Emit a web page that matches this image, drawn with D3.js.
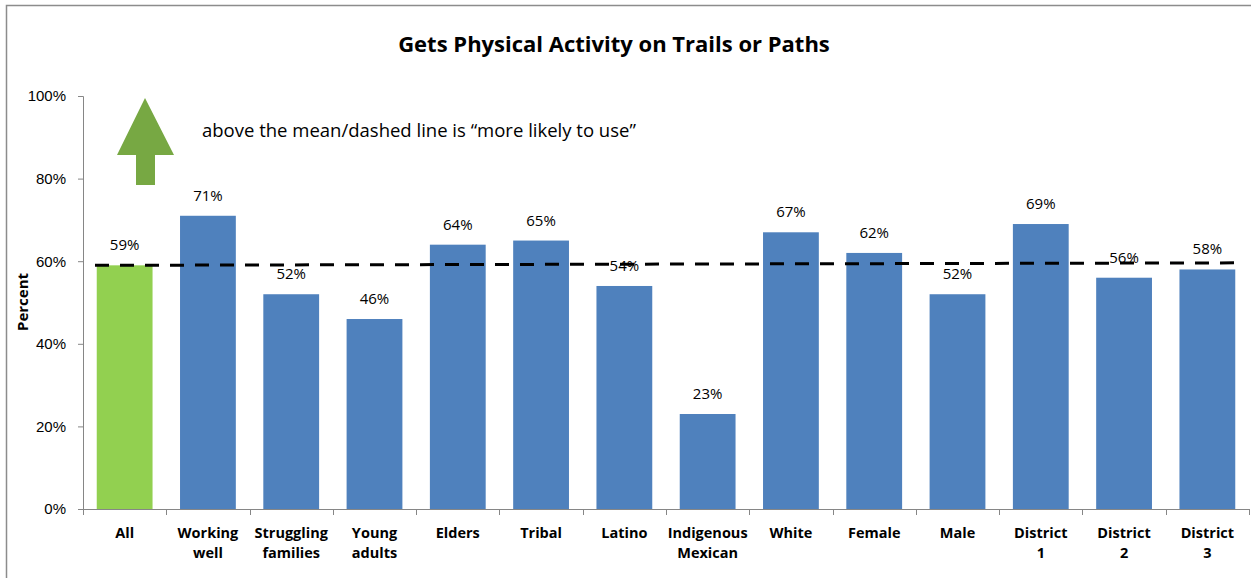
<!DOCTYPE html>
<html>
<head>
<meta charset="utf-8">
<script src="https://cdn.jsdelivr.net/npm/d3@7"></script>
<style>
  body { margin: 0; background: #fff; }
  svg { font-family: "Open Sans", Lato, sans-serif; }
</style>
</head>
<body>
<div id="chart"></div>
<script>
// chart values
var categories = [["All"], ["Working", "well"], ["Struggling", "families"], ["Young", "adults"],
  ["Elders"], ["Tribal"], ["Latino"], ["Indigenous", "Mexican"], ["White"], ["Female"],
  ["Male"], ["District", "1"], ["District", "2"], ["District", "3"]];
var values = [59, 71, 52, 46, 64, 65, 54, 23, 67, 62, 52, 69, 56, 58];
var highlight = [true, false, false, false, false, false, false, false, false, false, false, false, false, false];
var yTicks = [0, 20, 40, 60, 80, 100];
var meanLine = [59, 59.6];   // the hand-drawn dashed line is a little tilted

var width = 1251, height = 578;
var margin = {top: 96, right: 2, bottom: 69, left: 83};

var svg = d3.select("#chart").append("svg")
  .attr("width", width).attr("height", height);

// outer frame
svg.append("rect")
  .attr("x", 6.5).attr("y", 5.5)
  .attr("width", width).attr("height", height)
  .attr("fill", "none").attr("stroke", "#8c8c8c").attr("stroke-width", 1.5);

var x = d3.scaleBand()
  .domain(d3.range(categories.length))
  .range([margin.left, width - margin.right])
  .paddingInner(0.33).paddingOuter(0.165);

var y = d3.scaleLinear()
  .domain([0, 100])
  .range([height - margin.bottom, margin.top]);

// title
svg.append("text")
  .attr("x", 614).attr("y", 52)
  .attr("text-anchor", "middle")
  .style("font-size", "22px").style("font-weight", "bold")
  .text("Gets Physical Activity on Trails or Paths");

// y axis
var yAxis = svg.append("g")
  .attr("transform", "translate(" + margin.left + ",0)")
  .call(d3.axisLeft(y).tickValues(yTicks).tickSize(5).tickPadding(12).tickFormat(d => d + "%"));
yAxis.select(".domain").attr("stroke", "#868686");
yAxis.selectAll(".tick line").attr("stroke", "#868686");
yAxis.selectAll("text").style("font-size", "15px").attr("fill", "#000");

svg.append("text")
  .attr("transform", "translate(28," + 302 + ") rotate(-90)")
  .attr("text-anchor", "middle")
  .style("font-size", "15px").style("font-weight", "bold")
  .text("Percent");

// bars
svg.append("g").selectAll("rect")
  .data(values)
  .join("rect")
    .attr("x", (d, i) => x(i))
    .attr("y", d => y(d))
    .attr("width", x.bandwidth())
    .attr("height", d => y(0) - y(d))
    .attr("fill", (d, i) => highlight[i] ? "#92d050" : "#4f81bd");

// x axis (ticks between categories)
var x0 = y(0);
var xa = svg.append("g");
xa.append("line")
  .attr("x1", margin.left).attr("x2", width - margin.right)
  .attr("y1", x0 + 0.5).attr("y2", x0 + 0.5)
  .attr("stroke", "#868686");
xa.selectAll(".sep")
  .data(d3.range(categories.length + 1))
  .join("line")
    .attr("class", "sep")
    .attr("x1", i => Math.round(margin.left + i * x.step()) + 0.5)
    .attr("x2", i => Math.round(margin.left + i * x.step()) + 0.5)
    .attr("y1", x0).attr("y2", x0 + 6)
    .attr("stroke", "#868686");

var xl = svg.append("g").selectAll("text")
  .data(categories)
  .join("text")
    .attr("text-anchor", "middle")
    .attr("x", (d, i) => x(i) + x.bandwidth() / 2)
    .attr("y", x0 + 29)
    .style("font-size", "14.5px").style("font-weight", "bold");
xl.selectAll("tspan")
  .data(d => d)
  .join("tspan")
    .attr("x", function() { return this.parentNode.getAttribute("x"); })
    .attr("dy", (d, i) => i ? 20 : 0)
    .text(d => d);

// value labels
svg.append("g").selectAll("text")
  .data(values)
  .join("text")
    .attr("text-anchor", "middle")
    .attr("x", (d, i) => x(i) + x.bandwidth() / 2)
    .attr("y", d => y(d) - 15)
    .style("font-size", "15px")
    .text(d => d + "%");

// dashed mean line
svg.append("line")
  .attr("x1", 95).attr("x2", 1242)
  .attr("y1", y(meanLine[0])).attr("y2", y(meanLine[1]))
  .attr("stroke", "#000").attr("stroke-width", 3)
  .attr("stroke-dasharray", "14,11");

// green arrow annotation
var arrow = d3.path();
arrow.moveTo(145, 98);
arrow.lineTo(174, 155);
arrow.lineTo(155, 155);
arrow.lineTo(155, 185);
arrow.lineTo(136, 185);
arrow.lineTo(136, 155);
arrow.lineTo(117, 155);
arrow.closePath();
svg.append("path")
  .attr("d", arrow.toString())
  .attr("fill", "#77a843");

svg.append("text")
  .attr("x", 202).attr("y", 137)
  .style("font-size", "18.5px")
  .text("above the mean/dashed line is \u201cmore likely to use\u201d");
</script>
</body>
</html>
